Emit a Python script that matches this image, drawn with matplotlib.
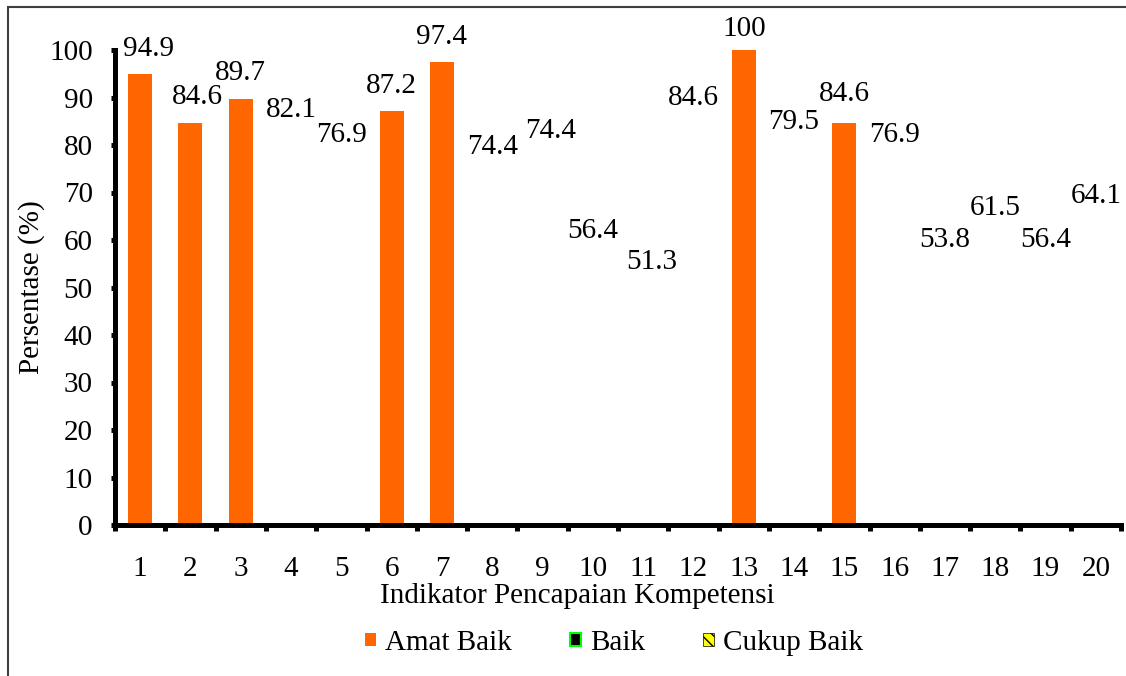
import matplotlib
matplotlib.use("Agg")
import matplotlib.pyplot as plt
from matplotlib.patches import Patch, Rectangle
import numpy as np

plt.rcParams['font.family'] = ['Liberation Serif', 'DejaVu Serif']

# Indicator numbers
indikator = list(range(1, 21))

# Percentages per achievement category (0 = category not reached)
amat_baik = [94.9, 84.6, 89.7, 0, 0, 87.2, 97.4, 0, 0, 0,
             0, 0, 100, 0, 84.6, 0, 0, 0, 0, 0]
baik = [0, 0, 0, 82.1, 76.9, 0, 0, 74.4, 74.4, 0,
        0, 84.6, 0, 79.5, 0, 76.9, 0, 0, 0, 0]
cukup_baik = [0, 0, 0, 0, 0, 0, 0, 0, 0, 56.4,
              51.3, 0, 0, 0, 0, 0, 53.8, 61.5, 56.4, 64.1]

# small hand nudges for some value labels (points)
label_dx = [6, 5, 0, 0, 0, 0, 0, 0, 6, 0, 6, 0, 0, 0, 0, 0, 0, 0, 0, 0]
label_dy = [0, 1, 1, 0, 0, 0, 0, 0, 11, 1, -4, 0, -3, 0, 3, 0, 3, 0, -6, 0]

FS = 21
fig = plt.figure(figsize=(11.26, 6.76), dpi=100)
ax = fig.add_axes([115 / 1126, 1 - 525 / 676, (1121 - 115) / 1126, (525 - 50) / 676])

x = np.array(indikator)
w = 0.477
b1 = ax.bar(x, amat_baik, width=w, color='#FF6600', zorder=2)
b2 = ax.bar(x, baik, width=w, facecolor='none', edgecolor='none', zorder=2)
b3 = ax.bar(x, cukup_baik, width=w, facecolor='none', edgecolor='none', zorder=2)

# value labels above each reached category
for i in range(len(x)):
    for vals in (amat_baik, baik, cukup_baik):
        v = vals[i]
        if v > 0:
            txt = f"{v:g}"
            ax.annotate(txt, (x[i], v), xytext=(label_dx[i], 18 + label_dy[i]),
                        textcoords='offset points', ha='center', va='center',
                        fontsize=FS, color='black', annotation_clip=False)

ax.set_xlim(0.5, 20.5)
ax.set_ylim(0, 100)
ax.set_yticks(range(0, 101, 10))
ax.set_xticks(x)
ax.set_xticklabels([str(i) for i in indikator])
ax.set_xticks(np.arange(0.5, 21, 1), minor=True)

for s in ('top', 'right'):
    ax.spines[s].set_visible(False)
for s in ('left', 'bottom'):
    ax.spines[s].set_linewidth(3.6)
    ax.spines[s].set_color('black')

ax.tick_params(axis='y', direction='out', length=3, width=3.6, labelsize=FS, pad=13)
ax.tick_params(axis='x', which='major', length=0, labelsize=FS, pad=22)
ax.tick_params(axis='x', which='minor', direction='out', length=4, width=3.6)

ax.set_ylabel('Persentase (%)', fontsize=FS, labelpad=3)
ax.set_xlabel('Indikator Pencapaian Kompetensi', fontsize=FS, labelpad=1)
ax.xaxis.label.set_x(0.46)

handles = [
    Patch(facecolor='#FF6600', edgecolor='none', label='Amat Baik'),
    Patch(facecolor='black', edgecolor='#00FF00', linewidth=1.5, label='Baik'),
    Patch(facecolor='#FFFF00', edgecolor='black', hatch='\\\\\\', linewidth=0.5, label='Cukup Baik'),
]
fig.legend(handles=handles, loc='center', bbox_to_anchor=(614 / 1126, 1 - 643 / 676),
           ncol=3, frameon=False, fontsize=FS, handlelength=0.38, handleheight=0.28,
           handletextpad=0.3, columnspacing=2.0)

# outer frame around the chart area
fig.patches.append(Rectangle((8 / 1126, -0.05), 1.2, 1 - 7 / 676 + 0.05,
                             transform=fig.transFigure, fill=False,
                             edgecolor='#404040', linewidth=1.5))

fig.savefig('out.png', dpi=100)
